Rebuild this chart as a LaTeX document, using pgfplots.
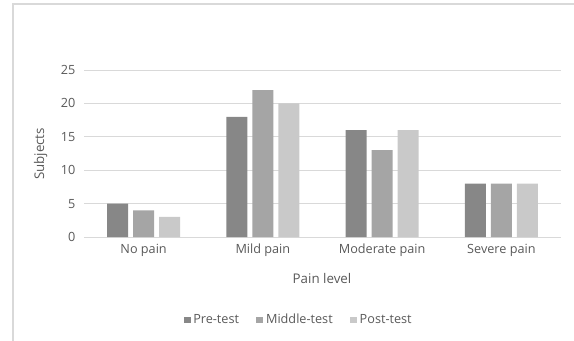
\documentclass[border=0pt]{standalone}
\usepackage{pgfplots}
\pgfplotsset{compat=1.18}
\usepackage{fontspec}
\setmainfont{Open Sans}
\definecolor{txt}{HTML}{595959}
\definecolor{gridc}{HTML}{D9D9D9}
\definecolor{cpre}{HTML}{878787}
\definecolor{cmid}{HTML}{A5A5A5}
\definecolor{cpost}{HTML}{C9C9C9}
\begin{document}
\begin{tikzpicture}
\path[use as bounding box] (0pt,0pt) rectangle (430.5pt,-255pt);
\draw[gridc, line width=1pt] (9.75pt,-260pt) -- (9.75pt,-3pt) -- (440pt,-3pt);
\begin{axis}[
  at={(63pt,-177.75pt)}, anchor=south west,
  scale only axis, width=357.75pt, height=125.25pt,
  ybar=3.75pt, bar width=15.75pt,
  xmin=-0.5, xmax=3.5, ymin=0, ymax=25,
  xtick={0,1,2,3}, xticklabels={No pain,Mild pain,Moderate pain,Severe pain},
  ytick={0,5,10,15,20,25},
  ymajorgrids, grid style={gridc, line width=0.75pt},
  axis x line*=bottom, axis y line*=left,
  x axis line style={gridc, line width=0.75pt},
  y axis line style={draw=none},
  major tick length=0pt,
  every tick label/.append style={font=\fontsize{9.5}{11}\selectfont, text=txt},
  xticklabel style={anchor=base, yshift=-12.5pt},
  yticklabel style={anchor=east, xshift=-3pt},
  /pgf/number format/assume math mode=true,
  legend columns=3,
  legend style={draw=none, fill=none, at={(rel axis cs:0.4507,-0.497)}, anchor=center,
    font=\fontsize{9.5}{11}\selectfont, text=txt,
    /tikz/every even column/.append style={column sep=11pt}},
  legend image code/.code={\fill[#1] (0pt,-2.6pt) rectangle (5.25pt,2.6pt);},
]
\addplot[fill=cpre, draw=none] coordinates {(0,5) (1,18) (2,16) (3,8)};
\addplot[fill=cmid, draw=none] coordinates {(0,4) (1,22) (2,13) (3,8)};
\addplot[fill=cpost, draw=none] coordinates {(0,3) (1,20) (2,16) (3,8)};
\legend{Pre-test,Middle-test,Post-test}
\end{axis}
\node[rotate=90, text=txt, font=\fontsize{10}{12}\selectfont] at (30.5pt,-115.5pt) {Subjects};
\node[text=txt, font=\fontsize{10}{12}\selectfont] at (241.5pt,-208.5pt) {Pain level};
\end{tikzpicture}
\end{document}
